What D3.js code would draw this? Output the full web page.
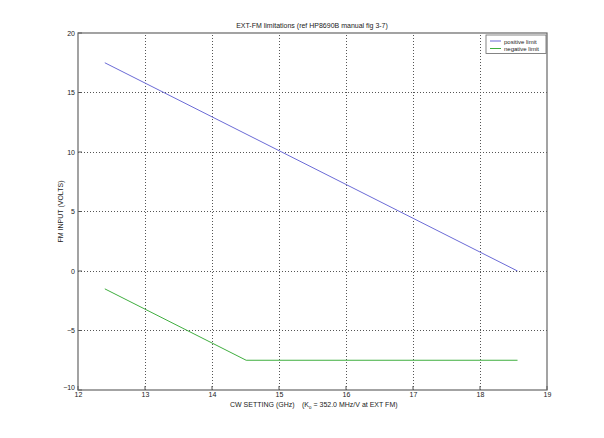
<!DOCTYPE html>
<html>
<head>
<meta charset="utf-8">
<script src="https://cdn.jsdelivr.net/npm/d3@7"></script>
<style>
  body { margin: 0; background: #fff; }
  text { font-family: "Liberation Sans", Arial, sans-serif; fill: #222; }
</style>
</head>
<body>
<div id="chart"></div>
<script>
// data
var seriesNames = ["positive limit", "negative limit"];
var seriesColors = ["#6b6bd6", "#3fae3f"];
var positiveLimit = [[12.4, 17.5], [18.56, 0]];
var negativeLimit = [[12.4, -1.5], [14.51, -7.5], [18.56, -7.5]];
var xTicks = [12, 13, 14, 15, 16, 17, 18, 19];
var yTicks = [-10, -5, 0, 5, 10, 15, 20];

(function() {
    var width = 604;
    var height = 438;
    var margin = {left: 78, right: 57, top: 33, bottom: 48};
    var fs = "7px";

    var svg = d3.select("#chart").append("svg")
        .attr("width", width)
        .attr("height", height);

    var x = d3.scaleLinear().domain([12, 19]).range([margin.left, width - margin.right]);
    var y = d3.scaleLinear().domain([-10, 20]).range([height - margin.bottom, margin.top]);

    var g = svg.append("g");

    // dotted grid
    g.selectAll(".vgrid")
        .data(xTicks.slice(1, -1))
        .enter().append("line")
        .attr("x1", function(d) { return x(d); })
        .attr("x2", function(d) { return x(d); })
        .attr("y1", y(-10))
        .attr("y2", y(20))
        .attr("stroke", "#555")
        .attr("stroke-width", 1)
        .attr("stroke-dasharray", "1,2")
        .attr("shape-rendering", "crispEdges");

    g.selectAll(".hgrid")
        .data(yTicks.slice(1, -1))
        .enter().append("line")
        .attr("x1", x(12))
        .attr("x2", x(19))
        .attr("y1", function(d) { return y(d); })
        .attr("y2", function(d) { return y(d); })
        .attr("stroke", "#555")
        .attr("stroke-width", 1)
        .attr("stroke-dasharray", "1,2")
        .attr("shape-rendering", "crispEdges");

    // axes
    var xAxis = d3.axisBottom(x).tickValues(xTicks).tickFormat(d3.format("d")).tickSize(0).tickPadding(2);
    var yAxis = d3.axisLeft(y).tickValues(yTicks).tickFormat(d3.format("d")).tickSize(0).tickPadding(3);

    g.append("g")
        .attr("transform", "translate(0," + y(-10) + ")")
        .call(xAxis)
        .call(function(s) { s.select(".domain").remove(); })
        .selectAll("text")
        .attr("font-size", fs)
        .attr("font-family", "Liberation Sans, Arial, sans-serif")
        .attr("fill", "#222");

    g.append("g")
        .attr("transform", "translate(" + x(12) + ",0)")
        .call(yAxis)
        .call(function(s) { s.select(".domain").remove(); })
        .selectAll("text")
        .attr("font-size", fs)
        .attr("font-family", "Liberation Sans, Arial, sans-serif")
        .attr("fill", "#222")
        .attr("dy", function(d) { return d === -10 ? "-0.1em" : "0.32em"; });

    // small ticks inside box, matlab style
    g.selectAll(".xt")
        .data(xTicks)
        .enter().append("line")
        .attr("x1", function(d) { return x(d); })
        .attr("x2", function(d) { return x(d); })
        .attr("y1", y(-10))
        .attr("y2", y(-10) - 4)
        .attr("stroke", "#555");

    g.selectAll(".yt")
        .data(yTicks)
        .enter().append("line")
        .attr("x1", x(12))
        .attr("x2", x(12) + 4)
        .attr("y1", function(d) { return y(d); })
        .attr("y2", function(d) { return y(d); })
        .attr("stroke", "#555");

    // box
    g.append("rect")
        .attr("x", x(12))
        .attr("y", y(20))
        .attr("width", x(19) - x(12))
        .attr("height", y(-10) - y(20))
        .attr("fill", "none")
        .attr("stroke", "#666")
        .attr("stroke-width", 1.2);

    // series
    var line = d3.line()
        .x(function(d) { return x(d[0]); })
        .y(function(d) { return y(d[1]); });

    [positiveLimit, negativeLimit].forEach(function(data, i) {
        g.append("path")
            .datum(data)
            .attr("d", line)
            .attr("fill", "none")
            .attr("stroke", seriesColors[i])
            .attr("stroke-width", 1);
    });

    // title and labels
    svg.append("text")
        .attr("x", 312)
        .attr("y", 28)
        .attr("text-anchor", "middle")
        .attr("font-size", fs)
        .text("EXT-FM limitations (ref HP8690B manual fig 3-7)");

    svg.append("text")
        .attr("x", 230)
        .attr("y", 407)
        .attr("font-size", fs)
        .text("CW SETTING (GHz)");

    var k = svg.append("text")
        .attr("x", 302)
        .attr("y", 407)
        .attr("font-size", fs);
    k.append("tspan").text("(K");
    k.append("tspan").attr("font-size", "4.5px").attr("dy", 1.5).text("o");
    k.append("tspan").attr("dy", -1.5).text(" = 352.0 MHz/V at EXT FM)");

    svg.append("text")
        .attr("transform", "translate(63," + y(5) + ") rotate(-90)")
        .attr("text-anchor", "middle")
        .attr("font-size", fs)
        .text("FM INPUT (VOLTS)");

    // legend
    var legend = svg.append("g").attr("transform", "translate(486,35)");
    legend.append("rect")
        .attr("width", 60)
        .attr("height", 18.5)
        .attr("fill", "#fff")
        .attr("stroke", "#666")
        .attr("stroke-width", 0.8);

    var items = legend.selectAll(".item")
        .data(seriesNames)
        .enter().append("g")
        .attr("transform", function(d, i) { return "translate(0," + (6 + i * 7.5) + ")"; });

    items.append("line")
        .attr("x1", 4)
        .attr("x2", 15)
        .attr("stroke", function(d, i) { return seriesColors[i]; });

    items.append("text")
        .attr("x", 18)
        .attr("y", 2.5)
        .attr("font-size", "6px")
        .text(function(d) { return d; });
})();
</script>
</body>
</html>
